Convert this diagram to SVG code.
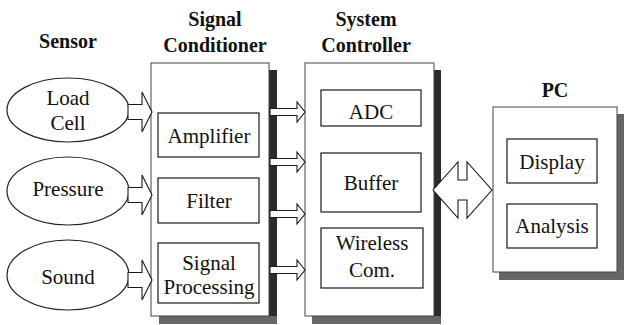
<svg xmlns="http://www.w3.org/2000/svg" width="625" height="325" viewBox="0 0 625 325">
<style>
text{font-family:'Liberation Serif','Times New Roman','DejaVu Serif',serif}
.title{font-weight:bold;font-size:20px;fill:#111;text-anchor:middle}
.lbl{font-size:21px;fill:#111;text-anchor:middle}
.outer{fill:#fff;stroke:#444;stroke-width:1}
.inner{fill:#fff;stroke:#1a1a1a;stroke-width:1.2}
.ell{fill:#fff;stroke:#222;stroke-width:1.2}
.shr{fill:#2a2a2a}
.shb{fill:#666}
.arr{fill:#fff;stroke:#1a1a1a;stroke-width:1.1;stroke-linejoin:miter}
</style>
<rect width="625" height="325" fill="#fff"/>

<g id="title-sensor"><text class="title" font-family="Liberation Serif, serif" x="68" y="48">Sensor</text></g>

<g id="sensor-loadcell">
<ellipse class="ell" cx="68" cy="110" rx="61" ry="32"/>
<text class="lbl" x="68" y="105">Load</text>
<text class="lbl" x="68" y="130">Cell</text>
</g>
<g id="sensor-pressure">
<ellipse class="ell" cx="68" cy="191" rx="61" ry="34"/>
<text class="lbl" x="68" y="196">Pressure</text>
</g>
<g id="sensor-sound">
<ellipse class="ell" cx="68" cy="275" rx="61" ry="35"/>
<text class="lbl" x="68" y="284">Sound</text>
</g>

<g id="signal-conditioner">
<text class="title" x="215" y="26">Signal</text>
<text class="title" x="215" y="52">Conditioner</text>
<rect class="shr" x="269" y="70" width="8" height="254"/>
<rect class="shb" x="159" y="316" width="118" height="8"/>
<rect class="outer" x="151" y="63" width="118" height="253"/>
<g id="amplifier">
<rect class="inner" x="158" y="113" width="101" height="44"/>
<text class="lbl" x="209" y="143">Amplifier</text>
</g>
<g id="filter">
<rect class="inner" x="158" y="178" width="101" height="45"/>
<text class="lbl" x="209" y="208">Filter</text>
</g>
<g id="signal-processing">
<rect class="inner" x="158" y="243" width="101" height="60"/>
<text class="lbl" x="209" y="270">Signal</text>
<text class="lbl" x="209" y="294">Processing</text>
</g>
</g>

<g id="system-controller">
<text class="title" x="366" y="26">System</text>
<text class="title" x="366" y="52">Controller</text>
<rect class="shr" x="434" y="70" width="7" height="254"/>
<rect class="shb" x="312" y="316" width="129" height="8"/>
<rect class="outer" x="305" y="63" width="129" height="253"/>
<g id="adc">
<rect class="inner" x="321" y="90" width="100" height="36"/>
<text class="lbl" x="371" y="119">ADC</text>
</g>
<g id="buffer">
<rect class="inner" x="321" y="153" width="100" height="59"/>
<text class="lbl" x="371" y="190">Buffer</text>
</g>
<g id="wireless-com">
<rect class="inner" x="321" y="228" width="102" height="60"/>
<text class="lbl" x="372" y="250">Wireless</text>
<text class="lbl" x="372" y="277">Com.</text>
</g>
</g>

<g id="pc">
<text class="title" x="555" y="97">PC</text>
<rect class="shb" x="617" y="114" width="7" height="166"/>
<rect class="shb" x="499" y="272" width="125" height="8"/>
<rect class="outer" x="493" y="107" width="124" height="165"/>
<g id="display">
<rect class="inner" x="507" y="139" width="90" height="44"/>
<text class="lbl" x="552" y="169">Display</text>
</g>
<g id="analysis">
<rect class="inner" x="507" y="204" width="90" height="44"/>
<text class="lbl" x="552" y="233">Analysis</text>
</g>
</g>

<g id="connectors">
<path class="arr" d="M128,104.5 H142 V92 L152,112 L142,132 V119.5 H128 Z"/>
<path class="arr" d="M128,187.5 H142 V175 L152,195 L142,215 V202.5 H128 Z"/>
<path class="arr" d="M128,272.5 H142 V260 L152,280 L142,300 V287.5 H128 Z"/>
<path class="arr" d="M270,108.5 H297 V102 L305,112 L297,122 V115.5 H270 Z"/>
<path class="arr" d="M270,158.5 H297 V152 L305,162 L297,172 V165.5 H270 Z"/>
<path class="arr" d="M270,210.5 H297 V204 L305,214 L297,224 V217.5 H270 Z"/>
<path class="arr" d="M270,266.5 H297 V260 L305,270 L297,280 V273.5 H270 Z"/>
<path class="arr" d="M433,190 L458,162 V180 H467 V162 L492,190 L467,218 V200 H458 V218 Z"/>
</g>
</svg>
